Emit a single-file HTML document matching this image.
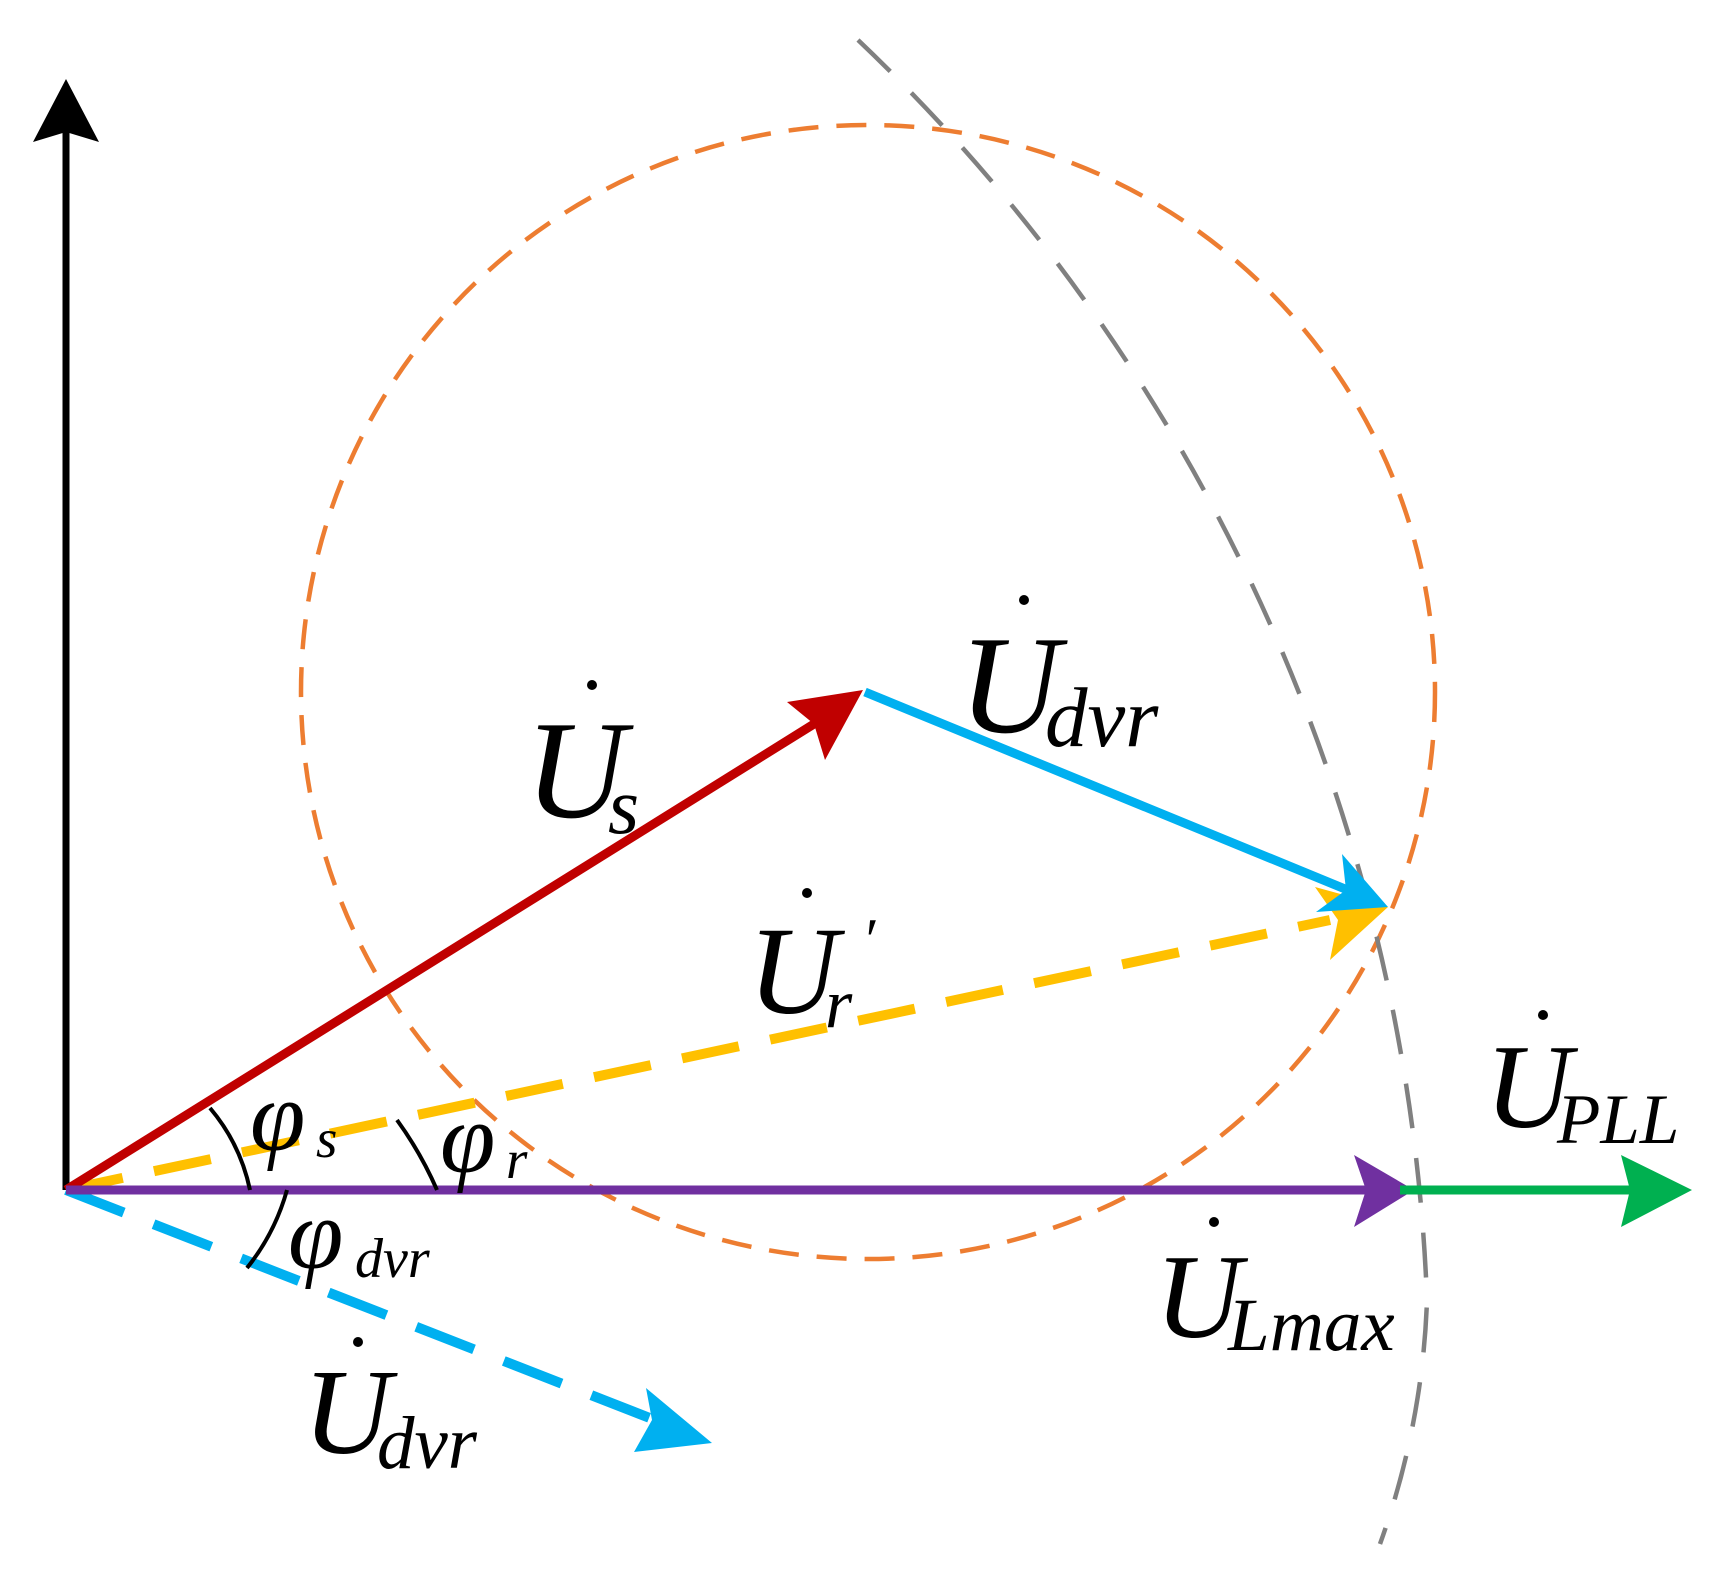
<!DOCTYPE html>
<html><head><meta charset="utf-8"><style>html,body{margin:0;padding:0;background:#fff}svg{display:block}</style></head>
<body>
<svg width="1717" height="1571" viewBox="0 0 1717 1571" xmlns="http://www.w3.org/2000/svg" font-family="'Liberation Serif', serif" font-style="italic">
<!-- orange dashed circle -->
<circle cx="868" cy="692" r="567" fill="none" stroke="#ED7D31" stroke-width="4.5" stroke-dasharray="30 18"/>
<!-- gray dashed arc -->
<path d="M858,40 A1834,1834 0 0 1 1427,1300 A800,800 0 0 1 1380,1544" fill="none" stroke="#808080" stroke-width="4.5" stroke-dasharray="45 30"/>
<!-- black axis -->
<line x1="66" y1="1190" x2="66" y2="130" stroke="#000" stroke-width="7"/>
<polygon points="66,79 99,142 66,132 33,142" fill="#000"/>
<!-- yellow dashed -->
<line x1="66" y1="1190" x2="1330" y2="920" stroke="#FFC000" stroke-width="10" stroke-dasharray="58 32"/>
<polygon points="1388,907 1330,960 1338,920 1315,887" fill="#FFC000"/>
<!-- cyan dashed lower -->
<line x1="66" y1="1190" x2="660" y2="1422" stroke="#00B0F0" stroke-width="10" stroke-dasharray="62 32"/>
<polygon points="712,1443 634,1452 652,1420 646,1388" fill="#00B0F0"/>
<!-- red -->
<line x1="66" y1="1190" x2="830" y2="714" stroke="#C00000" stroke-width="9"/>
<polygon points="863,690 825,760 814,724 787,702" fill="#C00000"/>
<!-- cyan solid -->
<line x1="865" y1="692" x2="1350" y2="891" stroke="#00B0F0" stroke-width="9"/>
<polygon points="1388,907 1316,912 1346,890 1342,854" fill="#00B0F0"/>
<!-- purple -->
<line x1="66" y1="1190" x2="1380" y2="1190" stroke="#7030A0" stroke-width="9"/>
<polygon points="1414,1190 1354,1227 1366,1190 1354,1155" fill="#7030A0"/>
<!-- green -->
<line x1="1400" y1="1190" x2="1660" y2="1190" stroke="#00B050" stroke-width="9"/>
<polygon points="1692,1190 1621,1227 1630,1190 1621,1155" fill="#00B050"/>
<!-- angle arcs -->
<path d="M210,1108 A186,186 0 0 1 250,1190" fill="none" stroke="#000" stroke-width="4"/>
<path d="M397,1120 A372,372 0 0 1 437,1190" fill="none" stroke="#000" stroke-width="4"/>
<path d="M287,1190 A219,219 0 0 1 247,1268" fill="none" stroke="#000" stroke-width="4"/>
<!-- labels -->
<g fill="#000">
<text x="525" y="817" font-size="140">U</text><text x="608" y="833" font-size="80">s</text><circle cx="592" cy="685" r="5"/>
<text x="959" y="732" font-size="140">U</text><text x="1045" y="746" font-size="85">dvr</text><circle cx="1024" cy="600" r="5"/>
<text x="748" y="1013" font-size="125">U</text><text x="825" y="1027" font-size="70">r</text><text x="862" y="960" font-size="60">′</text><circle cx="807" cy="893" r="5"/>
<text x="1485" y="1127" font-size="120">U</text><text x="1557" y="1143" font-size="71">PLL</text><circle cx="1543" cy="1015" r="5"/>
<text x="1155" y="1337" font-size="120">U</text><text x="1228" y="1350" font-size="75">Lmax</text><circle cx="1214" cy="1222" r="5"/>
<text x="303" y="1453" font-size="122">U</text><text x="377" y="1468" font-size="75">dvr</text><circle cx="358" cy="1342" r="5"/>
<text x="250" y="1150" font-size="100">φ</text><text x="316" y="1157" font-size="55">s</text>
<text x="440" y="1172" font-size="100">φ</text><text x="506" y="1178" font-size="55">r</text>
<text x="288" y="1268" font-size="100">φ</text><text x="355" y="1277" font-size="56">dvr</text>
</g>
</svg>
</body></html>
